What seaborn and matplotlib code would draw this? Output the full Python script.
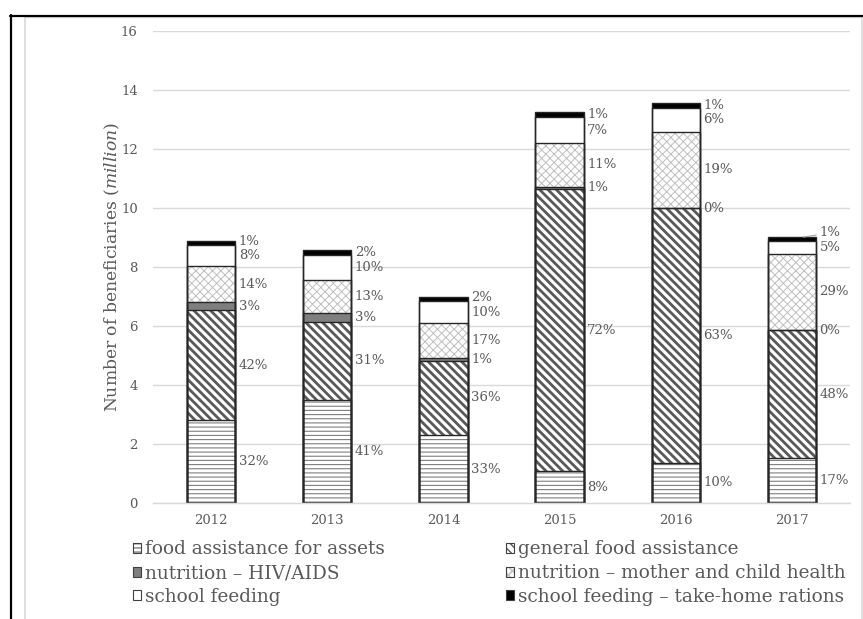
import matplotlib
matplotlib.use("Agg")
import matplotlib.pyplot as plt
from matplotlib.patches import Patch
from matplotlib.lines import Line2D
import pandas as pd
import seaborn as sns

# ---- data (million beneficiaries) ----
years = ["2012", "2013", "2014", "2015", "2016", "2017"]
food_assistance_for_assets = [2.82, 3.50, 2.31, 1.08, 1.38, 1.53]
general_food_assistance = [3.72, 2.65, 2.52, 9.55, 8.60, 4.32]
nutrition_hiv_aids = [0.26, 0.28, 0.08, 0.09, 0.02, 0.02]
nutrition_mother_child = [1.22, 1.12, 1.20, 1.46, 2.58, 2.58]
school_feeding = [0.71, 0.84, 0.72, 0.90, 0.80, 0.44]
school_feeding_thr = [0.13, 0.17, 0.16, 0.16, 0.18, 0.12]

series_names = [
    "food assistance for assets",
    "general food assistance",
    "nutrition \u2013 HIV/AIDS",
    "nutrition \u2013 mother and child health",
    "school feeding",
    "school feeding \u2013 take-home rations",
]
series_values = [
    food_assistance_for_assets,
    general_food_assistance,
    nutrition_hiv_aids,
    nutrition_mother_child,
    school_feeding,
    school_feeding_thr,
]
y_ticks = [0, 2, 4, 6, 8, 10, 12, 14, 16]

# ---- styles per series: (face, hatch, hatch colour, hatch width) ----
styles = [
    ("white", "----", "#7f7f7f", 0.8),
    ("white", "\\\\\\\\", "#595959", 2.0),
    ("#7f7f7f", "", "#7f7f7f", 0.8),
    ("white", "xxxx", "#bfbfbf", 0.7),
    ("white", "", "white", 0.8),
    ("black", "", "black", 0.8),
]

TEXT = "#595959"
GRID = "#d9d9d9"
EDGE = "#262626"
BAR_W = 0.415

sns.set_theme(style="white")
plt.rcParams["font.family"] = ["DejaVu Serif"]
plt.rcParams["mathtext.fontset"] = "dejavuserif"

df = pd.DataFrame({"year": years})
for name, vals in zip(series_names, series_values):
    df[name] = vals
cum = df[series_names].cumsum(axis=1)
totals = cum[series_names[-1]].values

fig = plt.figure(figsize=(8.63, 6.19), dpi=100)
ax = fig.add_axes([153 / 863, 1 - 503.3 / 619, 697 / 863, (503.3 - 30.5) / 619])

# stacked bars: cumulative heights drawn from the top layer down
for k in range(len(series_names) - 1, -1, -1):
    face, hatch, hcol, hlw = styles[k]
    with plt.rc_context({"hatch.linewidth": hlw}):
        sns.barplot(x=df["year"], y=cum[series_names[k]].values,
                    order=years, color=face, saturation=1, width=BAR_W,
                    hatch=hatch if hatch else None, edgecolor=hcol,
                    linewidth=0, errorbar=None, ax=ax)
        for p in ax.patches[-len(years):]:
            if hasattr(p, "set_hatch_linewidth"):
                p.set_hatch_linewidth(hlw)

# segment outlines
for k in range(len(series_names) - 1, -1, -1):
    sns.barplot(x=df["year"], y=cum[series_names[k]].values, order=years,
                color=EDGE, fill=False, width=BAR_W, linewidth=1.0,
                errorbar=None, ax=ax)

# percentage labels to the right of each segment
MIN_GAP = 0.48
for i, yr in enumerate(years):
    prev_y = -10
    lower = 0.0
    for k, name in enumerate(series_names):
        v = df.loc[i, name]
        upper = lower + v
        center = (lower + upper) / 2
        y_lab = max(center, prev_y + MIN_GAP)
        pct = round(100 * v / totals[i])
        x_edge = i + BAR_W / 2
        if y_lab - center > 0.12:
            ax.annotate(f"{pct}%", xy=(i + 0.1, upper), xytext=(x_edge + 0.03, y_lab),
                        textcoords="data", ha="left", va="center", fontsize=9.5,
                        color=TEXT,
                        arrowprops=dict(arrowstyle="-", color="#a6a6a6", lw=0.8,
                                        shrinkA=0, shrinkB=0))
        else:
            ax.annotate(f"{pct}%", xy=(x_edge, y_lab), xytext=(2.5, 0),
                        textcoords="offset points", ha="left", va="center",
                        fontsize=9.5, color=TEXT)
        prev_y = y_lab
        lower = upper

# axes styling
ax.set_ylim(0, 16)
ax.set_xlim(-0.5, len(years) - 0.5)
ax.set_yticks(y_ticks)
ax.set_yticklabels([str(t) for t in y_ticks])
ax.yaxis.grid(True, color=GRID, linewidth=1.0)
ax.set_axisbelow(True)
for side in ["top", "right", "left"]:
    ax.spines[side].set_visible(False)
ax.spines["bottom"].set_color(GRID)
ax.spines["bottom"].set_linewidth(1.0)
ax.tick_params(axis="y", length=0, pad=11, labelsize=9.5, labelcolor=TEXT)
ax.tick_params(axis="x", length=0, pad=8, labelsize=9.5, labelcolor=TEXT)
ax.set_xlabel("")
ax.set_ylabel(r"Number of beneficiaries ($\mathit{million}$)", fontsize=12.3, color=TEXT)
ax.yaxis.set_label_coords(-31 / 697, 0.5)

# legend in two columns under the plot
handles = []
for k, name in enumerate(series_names):
    face, hatch, hcol, hlw = styles[k]
    if hatch:
        h = Patch(facecolor="white", edgecolor=hcol, hatch=hatch, linewidth=0, label=name)
        if hasattr(h, "set_hatch_linewidth"):
            h.set_hatch_linewidth(hlw)
    else:
        h = Patch(facecolor=face, linewidth=0, label=name)
    # outline drawn on top of the hatched swatch
    o = Patch(facecolor="none", edgecolor="#404040", linewidth=0.8)
    handles.append((h, o))

leg_kw = dict(loc="upper left", frameon=False, fontsize=13.3, handlelength=0.45,
              handleheight=0.45, handletextpad=0.2, labelspacing=0.31,
              borderpad=0, borderaxespad=0, labelcolor=TEXT)
col1 = [0, 2, 4]
col2 = [1, 3, 5]
leg1 = fig.legend([handles[k] for k in col1], [series_names[k] for k in col1],
                  bbox_to_anchor=(133 / 863, 1 - 540.5 / 619), **leg_kw)
leg2 = fig.legend([handles[k] for k in col2], [series_names[k] for k in col2],
                  bbox_to_anchor=(506 / 863, 1 - 540.5 / 619), **leg_kw)

# chart frame
fig.add_artist(Line2D([25 / 863, 25 / 863], [0, 1 - 16.5 / 619], transform=fig.transFigure,
                      color=GRID, lw=1.2))
fig.add_artist(Line2D([862 / 863, 862 / 863], [0, 1 - 16.5 / 619], transform=fig.transFigure,
                      color=GRID, lw=1.2))
fig.add_artist(Line2D([25 / 863, 1], [1 - 17 / 619, 1 - 17 / 619], transform=fig.transFigure,
                      color=GRID, lw=1.0))
fig.add_artist(Line2D([10.5 / 863, 10.5 / 863], [0, 1 - 15 / 619], transform=fig.transFigure,
                      color="black", lw=1.6))
fig.add_artist(Line2D([10 / 863, 1], [1 - 15.5 / 619, 1 - 15.5 / 619], transform=fig.transFigure,
                      color="black", lw=1.6))

fig.savefig("out.png", dpi=100)
